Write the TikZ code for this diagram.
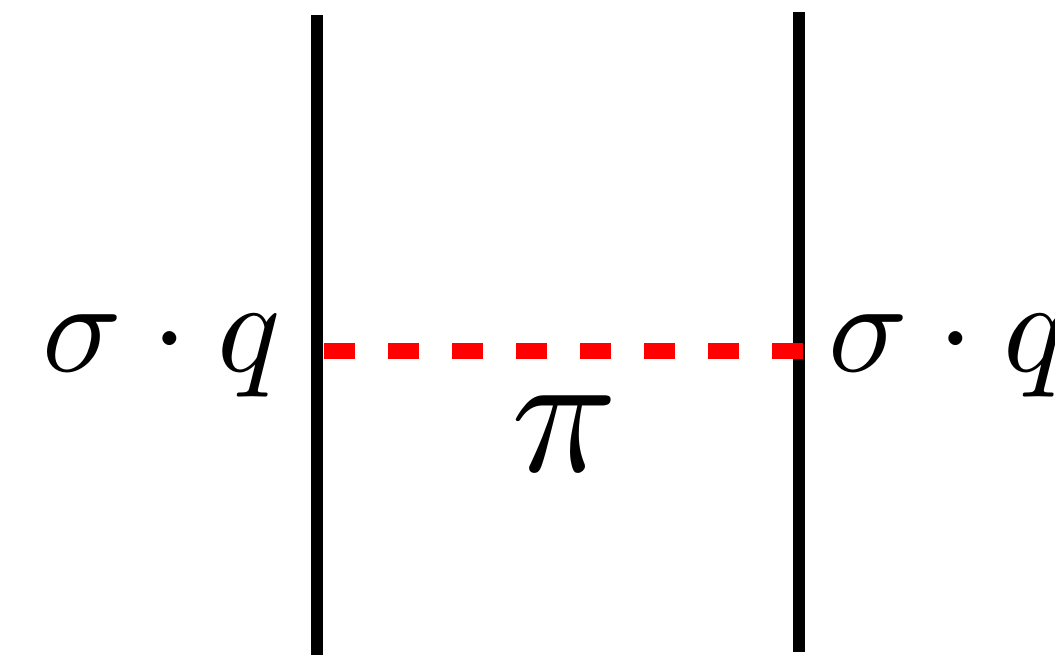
\documentclass[tikz,border=0pt]{standalone}
\usepackage{tikz}
\usetikzlibrary{positioning, calc}
\usepackage{amsmath, amssymb}
\definecolor{propred}{HTML}{FF0000}
\tikzset{
  wall/.style={
    line width=0.25cm, color=black
  },
  propagator/.style={
    line width=0.32cm, color=propred, dash pattern=on 0.62cm off 0.66cm
  },
  vertexlabel/.style={
    inner sep=0pt, anchor=base west, scale=7.5
  },
  linelabel/.style={
    inner sep=0pt, anchor=base west, scale=10
  }
}
\begin{document}
\begin{tikzpicture}[x=0.02cm, y=-0.02cm]
  \useasboundingbox (0,0) rectangle (1055,656);

  % Walls
  \coordinate (lefttop) at (317,15);
  \coordinate (leftbot) at (317,655);
  \coordinate (righttop) at (799,12);
  \coordinate (rightbot) at (799,652);
  \draw[wall] (lefttop) -- (leftbot);
  \draw[wall] (righttop) -- (rightbot);

  % Propagator
  \coordinate (leftend) at (324,351);
  \coordinate (rightend) at (804,351);
  \draw[propagator] (leftend) -- (rightend);

  % Labels
  \node[vertexlabel] (leftvertex) at (40,371) {$\sigma\cdot q$};
  \node[vertexlabel] (rightvertex) at (826,371) {$\sigma\cdot q$};
  \node[linelabel] (pilabel) at (508,471) {$\pi$};

\end{tikzpicture}
\end{document}
